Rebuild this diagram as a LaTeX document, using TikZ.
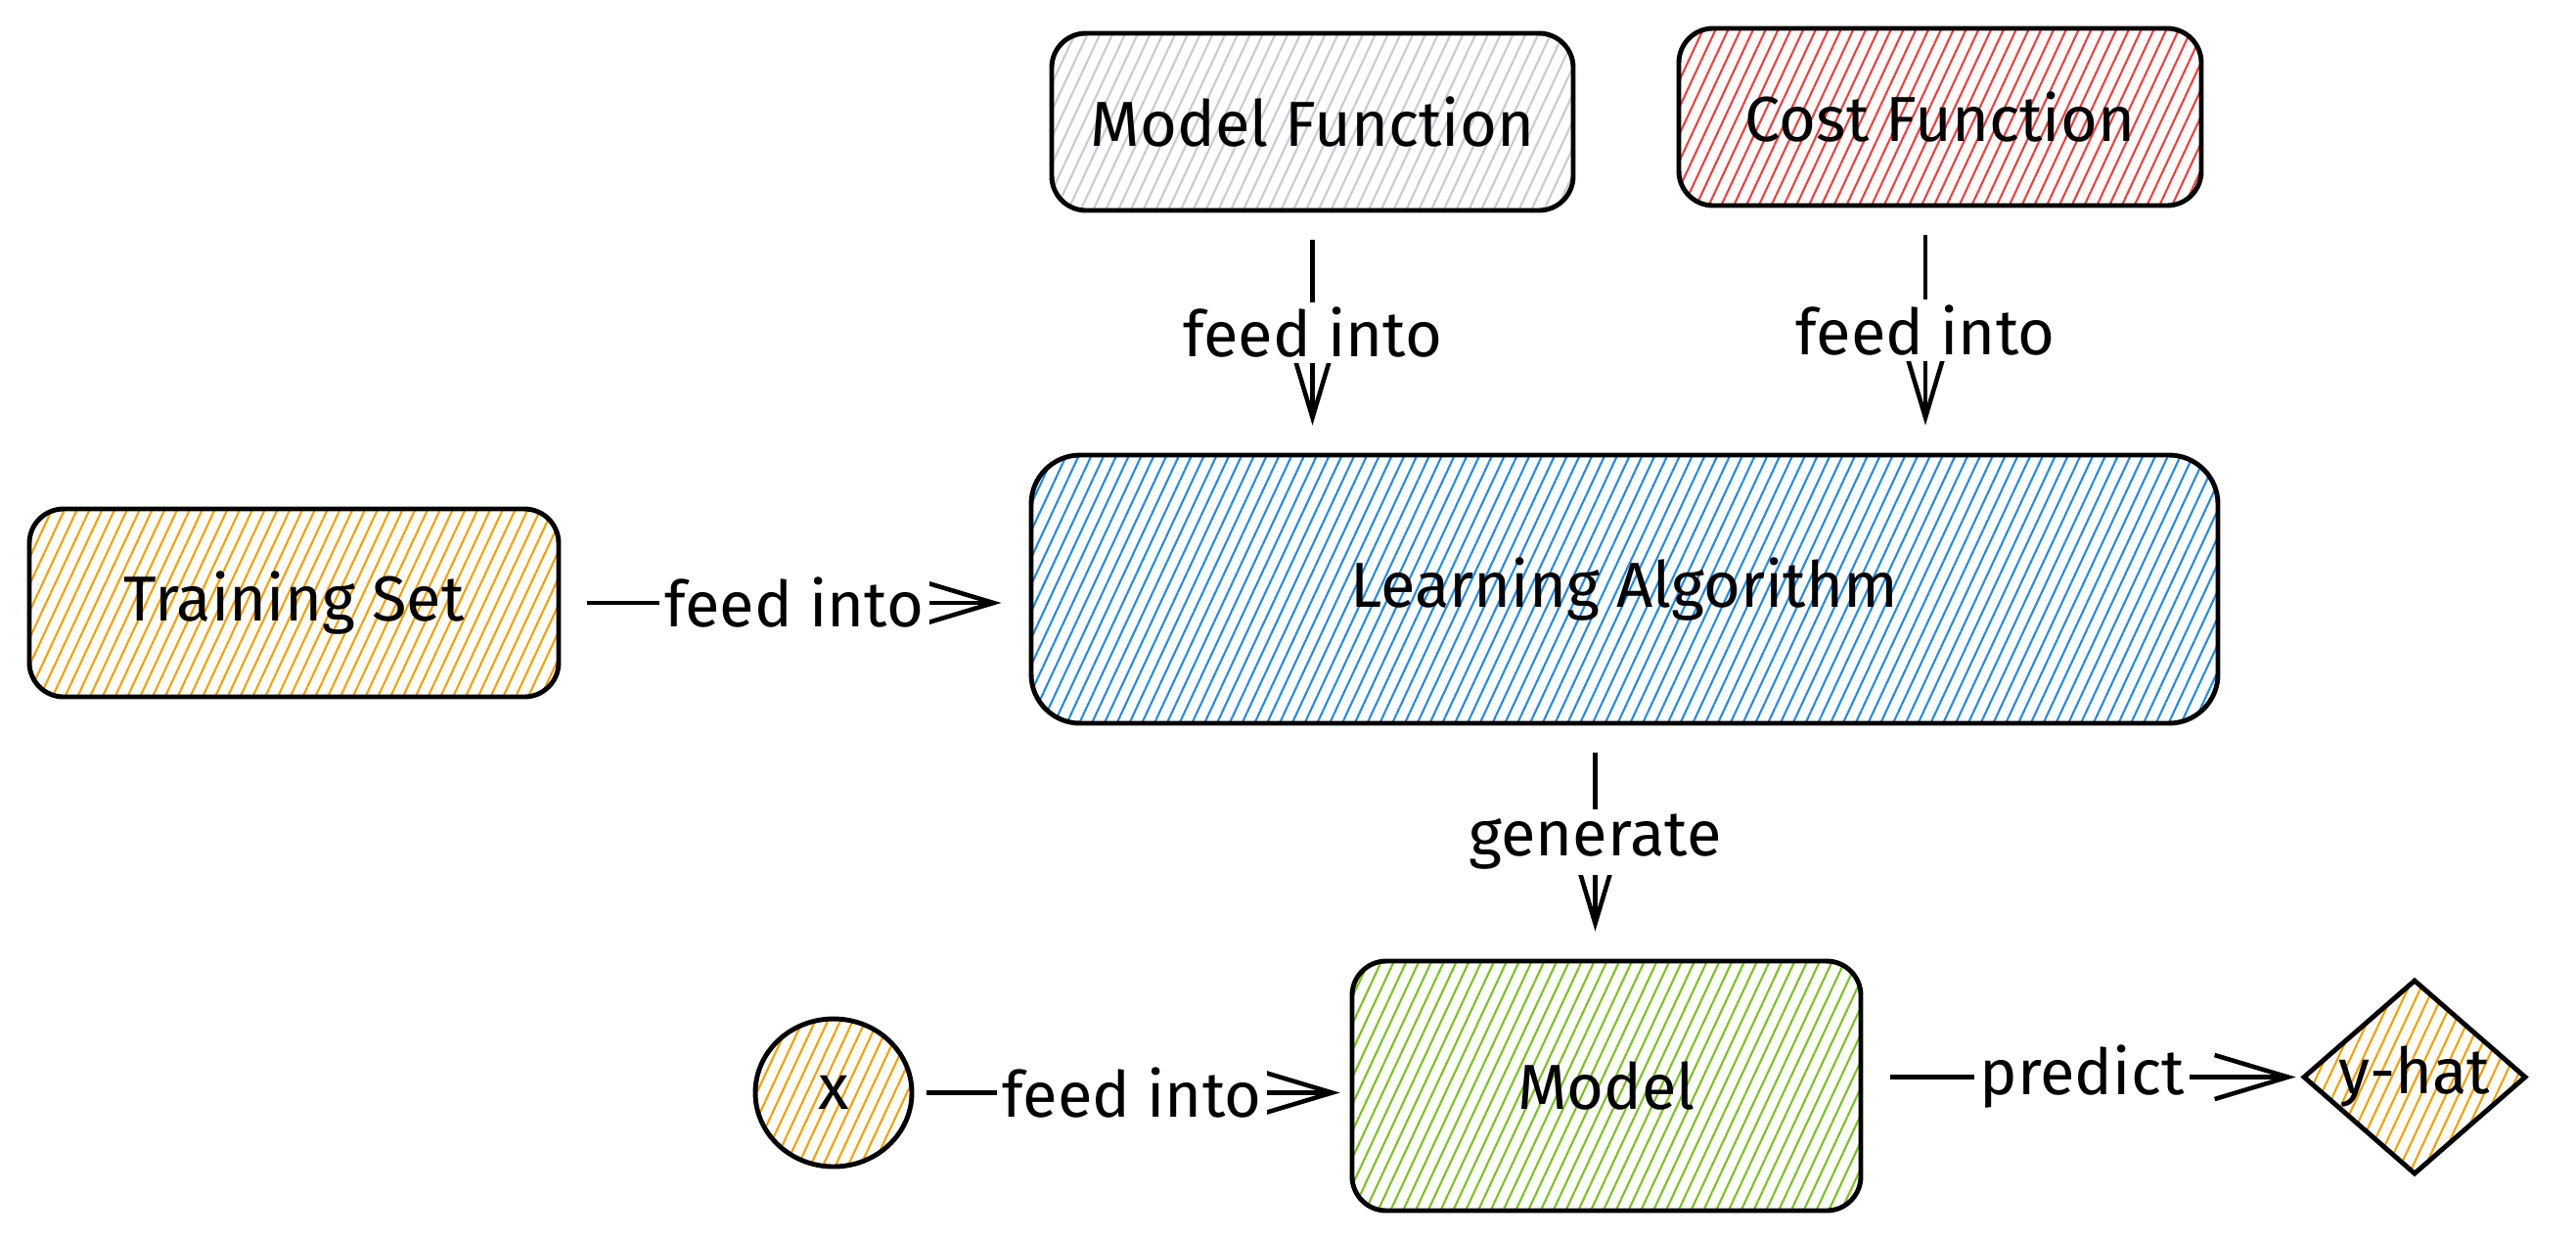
\documentclass[tikz,border=0pt]{standalone}
\usepackage{fontspec}
\setmainfont{Fira Sans}
\usepackage{tikz}
\usetikzlibrary{arrows.meta,shapes.geometric,patterns.meta,calc}

\definecolor{hatchorange}{HTML}{F5A000}
\definecolor{hatchblue}{HTML}{228BE6}
\definecolor{hatchred}{HTML}{F03E3E}
\definecolor{hatchgray}{HTML}{C5CCD3}
\definecolor{hatchgreen}{HTML}{7CC21E}

\begin{document}
\begin{tikzpicture}[
    x=1cm, y=1cm,
    font=\fontsize{18.5}{22}\selectfont,
    box/.style={rectangle, draw, line width=1.4pt, rounded corners=0.35cm, align=center},
    hatch/.style={pattern={Lines[angle=65, distance=3.3pt, line width=0.6pt]}, pattern color=#1},
    arrow/.style={-{Straight Barb[length=7.5mm, width=4.5mm, line width=1.3pt]}, line width=1.3pt, shorten <=0.28cm, shorten >=0.28cm},
    lbl/.style={fill=white, inner sep=1.5pt}
]
    \useasboundingbox (0,0) rectangle (26.33,-12.66);

    \node[box, hatch=hatchorange, minimum width=5.41cm, minimum height=1.92cm] (train) at (3.005,-6.16) {Training Set};
    \node[box, hatch=hatchblue, minimum width=12.13cm, minimum height=2.74cm, rounded corners=0.5cm] (learn) at (16.605,-6.02) {Learning Algorithm};
    \node[box, hatch=hatchgray, minimum width=5.33cm, minimum height=1.81cm] (mfunc) at (13.415,-1.245) {Model Function};
    \node[box, hatch=hatchred, minimum width=5.34cm, minimum height=1.81cm] (cfunc) at (19.83,-1.195) {Cost Function};
    \node[box, hatch=hatchgreen, minimum width=5.2cm, minimum height=2.55cm] (model) at (16.42,-11.095) {Model};
    \node[ellipse, draw, line width=1.4pt, hatch=hatchorange, minimum width=1.6cm, minimum height=1.51cm] (x) at (8.52,-11.165) {x};
    \node[diamond, draw, line width=1.4pt, hatch=hatchorange, minimum width=2.28cm, minimum height=1.99cm, inner sep=0pt, label={center:y-hat}] (yhat) at (24.68,-11.005) {};

    \draw[arrow] (train.east) -- node[lbl] {feed into} (train.east -| learn.west);
    \draw[arrow] (mfunc.south) -- node[lbl] {feed into} (mfunc.south |- learn.north);
    \draw[arrow] ([xshift=-1.5mm]cfunc.south) -- node[lbl] {feed into} ([xshift=-1.5mm]cfunc.south |- learn.north);
    \draw[arrow] ([xshift=-3mm]learn.south) -- node[lbl] {generate} ([xshift=-3mm]learn.south |- model.north);
    \draw[arrow, shorten <=0.13cm, shorten >=0.1cm] (x.east) -- node[lbl] {feed into} (x.east -| model.west);
    \draw[arrow, shorten >=0.05cm] (yhat.west -| model.east) -- node[lbl] {predict} (yhat.west);
\end{tikzpicture}
\end{document}
